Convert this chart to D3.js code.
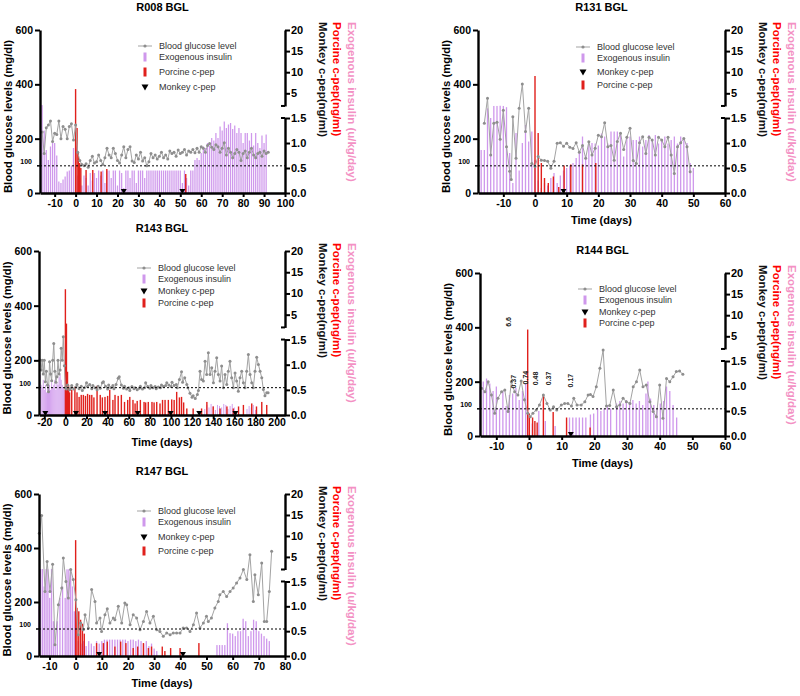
<!DOCTYPE html>
<html><head><meta charset="utf-8">
<script src="https://cdn.jsdelivr.net/npm/d3@7"></script>
<style>body{margin:0;background:#fff}svg{display:block}text{font-family:"Liberation Sans",Arial,sans-serif}</style>
</head><body><svg id="c" width="800" height="696"></svg>
<script>
// ---------------- DATA ----------------
const legendLabels = {bgl:"Blood glucose level", ins:"Exogenous insulin", por:"Porcine c-pep", mon:"Monkey c-pep"};
const leftTicks = [0,200,400,600];
const rightLowTicks = [0,0.5,1.0,1.5];
const rightHighTicks = [5,10,15,20];

// R008
const r008Ticks = [-10,0,10,20,30,40,50,60,70,80,90,100];
const r008Glucose = [[-16,225],[-15,145],[-14,240],[-13,250],[-12,265],[-11,190],[-10,220],[-9,215],[-8,265],[-7,200],[-6,245],[-5,235],[-4,200],[-3,245],[-2,255],[-1,195],[0,250],[1,150],[2,120],[3,105],[4,100],[5,108],[6,95],[7,120],[8,135],[9,110],[10,115],[11,140],[12,120],[13,105],[14,130],[15,165],[16,140],[17,130],[18,165],[19,145],[20,120],[21,110],[22,140],[23,170],[24,130],[25,160],[26,170],[27,118],[28,112],[29,140],[30,125],[31,150],[32,118],[33,130],[34,100],[35,115],[36,145],[37,130],[38,140],[39,125],[40,135],[41,150],[42,130],[43,140],[44,125],[45,155],[46,145],[47,150],[48,135],[49,158],[50,145],[51,150],[52,160],[53,140],[54,155],[55,150],[56,160],[57,148],[58,165],[59,150],[60,170],[61,165],[62,150],[63,175],[64,182],[65,168],[66,160],[67,178],[68,170],[69,150],[70,165],[71,185],[72,140],[73,165],[74,150],[75,130],[76,145],[77,160],[78,150],[79,120],[80,145],[81,155],[82,130],[83,150],[84,165],[85,140],[86,130],[87,145],[88,150],[89,135],[90,155],[91,145],[92,150]];
const r008Insulin = [[-16,2.2],[-15,1.25],[-14,0.86],[-13,0.66],[-12,0.93],[-11,1.0],[-10,1.0],[-9,0.75],[-8,0.23],[-7,0.2],[-6,0.27],[-5,0.33],[-4,0.43],[-3,0.45],[-2,0.55],[-1,0.9],[0,0.93],[1,0.35],[2,0.3],[3,0.15],[4,0.35],[5,0.3],[6,0.15],[7,0.4],[8,0.25],[9,0.4],[10,0.3],[11,0.45],[12,0.35],[13,0.45],[14,0.2],[15,0.45],[16,0.45],[17,0.3],[18,0.45],[19,0.45],[20,0.15],[21,0.45],[22,0.4],[23,0.1],[24,0.45],[25,0.45],[26,0.3],[27,0.45],[28,0.45],[29,0.2],[30,0.45],[31,0.45],[32,0.45],[33,0.3],[34,0.45],[35,0.45],[36,0.45],[37,0.45],[38,0.45],[39,0.45],[40,0.45],[41,0.45],[42,0.45],[43,0.45],[44,0.45],[45,0.45],[46,0.45],[47,0.45],[48,0.45],[49,0.45],[50,0.45],[51,0.2],[52,0.45],[53,0.3],[54,0.15],[55,0.45],[56,0.45],[57,0.66],[58,0.7],[59,0.66],[60,0.8],[61,0.93],[62,0.9],[63,1.0],[64,0.95],[65,1.1],[66,1.05],[67,1.2],[68,1.1],[69,1.33],[70,1.25],[71,1.43],[72,1.3],[73,1.37],[74,1.4],[75,1.28],[76,1.35],[77,1.2],[78,1.3],[79,1.2],[80,1.0],[81,1.2],[82,1.2],[83,1.05],[84,1.2],[85,0.95],[86,1.2],[87,1.0],[88,0.9],[89,1.15],[90,1.0],[91,1.17]];
const r008Porcine = [[0,6.0],[0.7,1.3],[1.3,0.8],[1.9,0.6],[2.5,0.5],[5,0.46],[8.2,0.46],[12.2,0.43],[14.9,0.48],[52.6,0.38]];
const r008Monkey = [23,51];

// R131
const r131Ticks = [-10,0,10,20,30,40,50,60];
const r131Glucose = [[-16,257],[-15,349],[-14,140],[-13,257],[-12,260],[-11,198],[-10,305],[-9,170],[-8,80],[-7.5,50],[-7,281],[-6,128],[-5,312],[-4,401],[-3,226],[-2,312],[-1,109],[0,98],[1,134],[2,121],[3,120],[4,117],[5,91],[6,117],[7,183],[8,185],[9,172],[10,183],[11,168],[12,164],[13,185],[14,150],[15,175],[16,128],[17,189],[18,140],[19,165],[20,213],[21,207],[22,259],[23,170],[24,175],[25,121],[26,190],[27,220],[28,160],[29,205],[30,238],[31,120],[32,109],[33,185],[34,207],[35,145],[36,205],[37,195],[38,140],[39,205],[40,195],[41,170],[42,205],[43,140],[44,72],[45,170],[46,185],[47,201],[48,170],[49,78]];
const r131Insulin = [[-17,0.86],[-16,0.86],[-15,1.9],[-14,1.5],[-13,2.0],[-12,2.0],[-11,2.05],[-10,2.0],[-9,1.95],[-8,0.8],[-7,0.2],[-6,1.2],[-5,0.45],[-4,1.0],[-3,1.36],[-2,1.03],[-1,1.23],[0,0.66],[1,0.25],[2,0.1],[3,0.2],[4,0.15],[5,0.3],[6,0.4],[7,0.2],[8,0.35],[9,0.45],[10,0.5],[11,0.55],[12,0.6],[13,0.7],[14,0.8],[15,1.13],[16,0.75],[17,0.99],[18,1.0],[19,0.99],[20,0.95],[21,1.19],[22,1.13],[23,0.99],[24,1.23],[25,1.23],[26,1.23],[27,1.19],[28,0.73],[29,1.13],[30,1.13],[31,1.06],[32,1.06],[33,1.13],[34,0.93],[35,1.06],[36,1.16],[37,1.06],[38,1.16],[39,0.99],[40,1.06],[41,1.13],[42,0.99],[43,1.06],[44,1.13],[45,0.99],[46,1.13],[47,1.06],[48,1.0],[49,0.6],[50,0.5]];
const r131Porcine = [[0,9.1],[1,1.2],[2,0.6],[3,0.3],[4.2,0.2],[5.8,0.33],[7.5,0.12],[9.2,0.55],[11.3,0.57],[15,0.57],[19.2,0.6]];
const r131Monkey = [9];

// R143
const r143Ticks = [-20,0,20,40,60,80,100,120,140,160,180,200];
const r143Glucose = [[-24,201],[-23,165],[-22,200],[-21,150],[-20,200],[-19,122],[-18,160],[-17,110],[-16,85],[-15,195],[-14,150],[-13,125],[-12,200],[-11,262],[-10,160],[-9,120],[-8,140],[-7,200],[-6,150],[-5,165],[-4,244],[-3,200],[-2,286],[-1,180],[0,100],[1,95],[2,110],[4,92],[5,98],[6,108],[8,95],[10,102],[11,112],[13,96],[15,105],[16,90],[18,100],[20,118],[21,104],[23,112],[25,96],[26,108],[28,100],[30,92],[31,105],[33,98],[35,118],[36,122],[38,105],[40,95],[41,110],[43,100],[45,108],[46,96],[48,112],[50,134],[51,140],[53,110],[55,98],[56,105],[58,95],[60,100],[61,90],[63,104],[65,96],[66,100],[68,92],[70,98],[71,105],[73,95],[75,100],[76,118],[78,104],[80,98],[81,108],[83,100],[85,104],[86,96],[88,102],[90,100],[91,110],[93,104],[95,108],[96,118],[98,110],[100,104],[101,120],[103,108],[105,112],[106,100],[108,130],[110,158],[111,120],[113,136],[115,112],[116,100],[118,80],[120,65],[121,70],[123,60],[125,75],[126,90],[127.5,160],[129,130],[130.7,124],[132.3,197],[133.8,148],[135.4,228],[137,148],[138.6,173],[140.2,118],[141.7,160],[143.3,209],[144.9,148],[146.5,124],[148,179],[149.6,100],[151.2,148],[152.8,112],[154.3,160],[155.9,197],[157.5,136],[159.1,100],[160.7,154],[162.2,124],[163.8,87],[165.4,136],[167,160],[168.6,118],[170.1,100],[171.7,160],[173.3,221],[174.9,148],[176.5,118],[178,100],[179.6,160],[181.2,211],[182.8,185],[184.4,160],[186,136],[187.5,93],[189,70],[190.7,81],[192,81]];
const r143Insulin = [[-24,0.8],[-23,0.6],[-22,0.55],[-21,0.7],[-20,0.5],[-19,0.6],[-18,0.45],[-17,0.65],[-16,0.55],[-15,0.6],[-14,0.5],[-13,0.65],[-12,0.55],[-11,0.6],[-10,0.7],[-9,0.5],[-8,0.65],[-7,0.6],[-6,0.75],[-5,0.8],[-4,0.7],[-3,0.6],[-2,0.55],[-1,0.5],[132,0.12],[134,0.2],[136,0.15],[138,0.22],[140,0.18],[142,0.1],[144,0.2],[146,0.18],[148,0.15],[150,0.22],[152,0.2],[154,0.12],[156,0.18],[158,0.22],[160,0.15],[172,0.12],[174,0.18],[176,0.15],[178,0.2],[180,0.1]];
const r143Porcine = [[0,11],[1,2.9],[2,0.86],[3,0.6],[4,0.45],[6,0.5],[9,0.56],[11,0.45],[13,0.36],[15,0.4],[17,0.4],[19,0.38],[21,0.42],[23,0.4],[25,0.4],[27,0.35],[30,0.58],[33,0.4],[35,0.35],[37.5,0.36],[40,0.38],[42,0.5],[45,0.3],[47,0.4],[50,0.38],[53,0.4],[56,0.26],[59,0.3],[61,0.36],[64,0.3],[66,0.23],[68,0.28],[71,0.3],[74.5,0.26],[76,0.25],[78.5,0.26],[82,0.26],[84,0.25],[86.5,0.26],[89.6,0.23],[92,0.3],[94.4,0.3],[97.5,0.3],[100.7,0.31],[103,0.3],[105.4,0.46],[108,0.35],[110,0.36],[112,0.25],[115,0.13],[121,0.13],[129,0.13],[134,0.26],[140,0.17],[146.5,0.13],[153,0.17],[159,0.13],[164,0.17],[168.6,0.2],[176.5,0.23],[181,0.17],[186,0.26],[190.7,0.2]];
const r143Monkey = [-19,10,37.6,68.5,99.7,126.8,161];

// R144
const r144Ticks = [-10,0,10,20,30,40,50,60];
const r144Glucose = [[-14.5,176],[-13.5,163],[-12.5,200],[-11.5,151],[-10.5,84],[-9.5,139],[-8.4,163],[-7.4,169],[-6.4,90],[-5.4,200],[-4.4,163],[-3.4,151],[-2.4,202],[-1.4,133],[-0.4,84],[0.4,71],[1.2,84],[2.2,96],[3.2,114],[4.4,151],[5.5,120],[6.5,96],[7.5,108],[8.5,96],[9.9,114],[10.9,120],[11.9,120],[13,110],[13.7,139],[14.7,114],[16,114],[17.1,126],[18.1,151],[18.8,153],[19.6,145],[20.6,181],[21.7,249],[22.7,317],[23.7,110],[24.7,112],[25.8,169],[26.8,108],[27.8,114],[28.8,139],[29.8,126],[30.9,120],[31.9,181],[32.9,200],[33.9,243],[34.9,181],[35.9,188],[37,126],[38,90],[39,71],[40,188],[41,65],[42.1,212],[43.1,200],[44.1,218],[45.1,237],[46.1,239],[47.1,227]];
const r144Insulin = [[-15,0.99],[-14,1.09],[-13,1.15],[-12,1.05],[-11,0.9],[-10,0.99],[-9,0.55],[-8,0.9],[-7,0.6],[-6,0.82],[-5,0.85],[-4,0.96],[-3,0.72],[-2,0.9],[-1,1.05],[1,0.25],[3,0.5],[5,0.3],[8,0.2],[12.4,0.37],[13.4,0.37],[14.4,0.37],[15.4,0.37],[16.4,0.37],[17.4,0.37],[18.8,0.43],[19.8,0.45],[21,0.55],[22,0.5],[23,0.55],[24,0.62],[25,0.55],[26.8,0.65],[27.8,0.7],[28.8,0.65],[29.8,0.72],[30.8,0.68],[31.8,0.72],[32.8,0.65],[33.8,0.7],[34.8,0.62],[35.8,0.85],[36.4,1.09],[37.2,0.75],[38.2,0.62],[39.2,0.55],[40.2,0.65],[41.2,0.7],[42.1,0.99],[43.1,0.9],[44.1,0.62],[45.2,0.37]];
const r144Porcine = [[-0.4,6.6],[0.1,0.45],[1.1,0.37],[1.8,0.3],[2.5,0.27],[4.4,0.82],[7.4,0.48],[11.5,0.37],[18.7,0.17]];
const r144Monkey = [12.8];
const r144Notes = [[-6.4,420,"6.6"],[-4.6,200,"0.37"],[-1.0,215,"0.74"],[2.1,212,"0.48"],[6.1,212,"0.37"],[12.8,204,"0.17"]];

// R147
const r147Ticks = [-10,0,10,20,30,40,50,60,70,80];
const r147Glucose = [[-13.9,455],[-13,520],[-11.7,239],[-10.9,350],[-9.8,239],[-8.8,340],[-7.9,42],[-6.6,190],[-5.3,252],[-4.7,363],[-3.7,276],[-2.8,215],[-1.9,320],[-0.9,283],[0.1,208],[1,79],[1.9,122],[2.9,97],[3.6,153],[4.9,104],[6.1,246],[7.4,202],[8,122],[9.3,141],[9.9,91],[11.2,153],[12.1,175],[13.1,122],[14.4,141],[15,134],[16.3,184],[17.6,122],[18.8,196],[19.5,190],[20.8,116],[22,153],[23.3,141],[24.6,97],[25.9,128],[27.1,165],[28.4,122],[29.7,147],[31,97],[32.2,91],[33.5,73],[34.8,85],[36.1,79],[37.3,85],[38.6,85],[39.9,85],[41.1,104],[42.4,104],[43.7,91],[45,116],[46.2,159],[47.5,104],[48.8,122],[50,147],[50.7,128],[51.9,141],[53.2,178],[54.5,202],[55.1,227],[56.4,239],[57.7,220],[59,239],[60.2,252],[61.5,270],[62.8,289],[64.1,320],[65.4,283],[66.6,375],[67.9,202],[68.5,301],[69.8,227],[71.1,344],[72.1,128],[73,128],[74,239],[74.9,388]];
const r147Insulin = [[-14,1.0],[-13.4,2.1],[-12.7,2.1],[-12,1.4],[-11.3,2.1],[-10.6,2.05],[-9.9,1.17],[-9.2,2.1],[-8.5,0.7],[-7.8,0.2],[-7,0.7],[-6,1.17],[-5,1.4],[-4,1.17],[-3.3,2.05],[-2.6,2.05],[-1.9,2.05],[-1.2,1.4],[-0.5,0.9],[1,0.3],[2,0.25],[3,0.3],[4,0.2],[5,0.3],[6,0.25],[7,0.2],[8,0.3],[9,0.25],[10,0.3],[11,0.33],[12,0.33],[13,0.33],[14,0.33],[15,0.33],[16,0.33],[17,0.33],[18,0.33],[19,0.33],[20,0.3],[21,0.33],[22,0.33],[23,0.3],[24,0.33],[25,0.3],[26,0.25],[27,0.3],[28,0.2],[29,0.25],[30,0.15],[31,0.1],[54,0.22],[55,0.22],[56,0.22],[57,0.22],[58,0.66],[59,0.46],[60,0.45],[61,0.4],[62,0.5],[63,0.5],[64,0.75],[65,0.7],[66,0.4],[67,0.5],[68,0.73],[69,0.7],[70,0.5],[71,0.45],[72,0.4],[73,0.35],[74,0.3]];
const r147Porcine = [[0,9.0],[0.5,0.97],[1.2,0.9],[1.9,0.73],[2.6,0.65],[3.3,0.45],[8,0.26],[10.6,0.26],[12.1,0.29],[15,0.19],[17.2,0.29],[19.2,0.26],[22,0.16],[23.7,0.19],[25.9,0.26],[27.8,0.16],[29,0.19],[33.1,0.19],[34.1,0.1],[36.3,0.16],[39.9,0.16],[47.1,0.26]];
const r147Monkey = [9,41];

// ---------------- LAYOUT ----------------
const C = {gl:"#a3a3a3", dot:"#8e8e8e", ins:"#cf98ec", por:"#e0201c", pink:"#f391c4", red:"#ff0000"};
const panels = [
 {name:"R008 BGL", glucose:r008Glucose, insulin:r008Insulin, porcine:r008Porcine, monkey:r008Monkey, ticks:r008Ticks,
  left:40, right:285, top:30, bottom:193, xd:[-17,100], xTitle:false, legend:[16,27,42,57], order:["bgl","ins","por","mon"], pad:3},
 {name:"R131 BGL", glucose:r131Glucose, insulin:r131Insulin, porcine:r131Porcine, monkey:r131Monkey, ticks:r131Ticks,
  left:478, right:725, top:30, bottom:193, xd:[-18,60], xTitle:true, legend:[17,28,42,55], order:["bgl","ins","mon","por"], pad:3},
 {name:"R143 BGL", glucose:r143Glucose, insulin:r143Insulin, porcine:r143Porcine, monkey:r143Monkey, ticks:r143Ticks,
  left:39, right:285, top:251, bottom:415, xd:[-25,208], xTitle:true, legend:[17,28,40,52], order:["bgl","ins","mon","por"], pad:0},
 {name:"R144 BGL", glucose:r144Glucose, insulin:r144Insulin, porcine:r144Porcine, monkey:r144Monkey, ticks:r144Ticks,
  left:480, right:725, top:273, bottom:436, xd:[-15,60], xTitle:true, legend:[16,27,39,50], order:["bgl","ins","mon","por"], pad:3, notes:r144Notes},
 {name:"R147 BGL", glucose:r147Glucose, insulin:r147Insulin, porcine:r147Porcine, monkey:r147Monkey, ticks:r147Ticks,
  left:39, right:285, top:494, bottom:656, xd:[-14,80], xTitle:true, legend:[17,28,43,57], order:["bgl","ins","mon","por"], pad:3}
];

const svg = d3.select("#c");
const tri = (cx, yTip, w, h) => `M${cx-w/2},${yTip-h}L${cx+w/2},${yTip-h}L${cx},${yTip}Z`;

function styleAxis(a, fs){
  a.selectAll(".domain").attr("stroke","#000").attr("stroke-width",2.4);
  a.selectAll(".tick line").attr("stroke","#000").attr("stroke-width",2);
  a.selectAll(".tick text").attr("fill","#000").style("font-family","'Liberation Sans',Arial,sans-serif")
   .style("font-size",fs+"px").style("font-weight","bold");
}

panels.forEach(p=>{
  const g = svg.append("g");
  const h = p.bottom - p.top;
  const x = d3.scaleLinear().domain(p.xd).range([p.left,p.right]);
  const yL = d3.scaleLinear().domain([0,600]).range([p.bottom,p.top]);
  const yLow = p.top + 0.54*h, yHigh = p.top + 0.466*h;
  const yR = d3.scaleLinear().domain([0,1.5,2,20]).range([p.bottom,yLow,yHigh,p.top]);
  const yRlow = d3.scaleLinear().domain([0,1.5]).range([p.bottom,yLow]);
  const yRhigh = d3.scaleLinear().domain([2,20]).range([yHigh,p.top]);
  const ppd = (p.right-p.left)/(p.xd[1]-p.xd[0]);
  const bw = Math.max(0.9, Math.min(1.3, ppd*0.6));

  // insulin bars
  g.append("g").selectAll("rect").data(p.insulin).join("rect")
   .attr("x",d=>x(d[0])-bw/2).attr("width",bw)
   .attr("y",d=>yR(d[1])).attr("height",d=>p.bottom-yR(d[1])).attr("fill",C.ins);
  // porcine bars
  g.append("g").selectAll("rect").data(p.porcine).join("rect")
   .attr("x",d=>x(d[0])-0.7).attr("width",1.4)
   .attr("y",d=>yR(d[1])).attr("height",d=>p.bottom-yR(d[1])).attr("fill",C.por);
  // glucose
  g.append("path").datum(p.glucose)
   .attr("d",d3.line().x(d=>x(d[0])).y(d=>yL(d[1])))
   .attr("fill","none").attr("stroke",C.gl).attr("stroke-width",1);
  g.append("g").selectAll("circle").data(p.glucose).join("circle")
   .attr("cx",d=>x(d[0])).attr("cy",d=>yL(d[1])).attr("r",1.5).attr("fill",C.dot);
  // dashed 100 line
  g.append("line").attr("x1",p.left).attr("x2",p.right).attr("y1",yL(100)).attr("y2",yL(100))
   .attr("stroke","#000").attr("stroke-width",1).attr("stroke-dasharray","2,2");
  // annotations
  if(p.notes){
    p.notes.forEach(n=>{
      g.append("text").attr("transform",`translate(${x(n[0])},${yL(n[1])}) rotate(-90)`)
       .attr("text-anchor","middle").attr("dominant-baseline","central")
       .style("font-size","7px").style("font-weight","bold").attr("fill","#222").text(n[2]);
    });
  }

  // axes
  const ax = g.append("g").attr("transform",`translate(${p.left},0)`)
    .call(d3.axisLeft(yL).tickValues(leftTicks).tickSize(5).tickSizeOuter(0).tickPadding(2));
  styleAxis(ax, 10.5);
  g.append("line").attr("x1",p.left-3).attr("x2",p.left).attr("y1",yL(100)).attr("y2",yL(100)).attr("stroke","#000").attr("stroke-width",1.5);
  g.append("text").attr("x",p.left-8).attr("y",yL(100)-2).attr("text-anchor","end")
   .style("font-size","7px").style("font-weight","bold").text("100");

  const bx = g.append("g").attr("transform",`translate(0,${p.bottom})`)
    .call(d3.axisBottom(x).tickValues(p.ticks).tickFormat(d=>String(d)).tickSize(4).tickSizeOuter(0).tickPadding(p.pad));
  styleAxis(bx, 10.5);

  const rl = g.append("g").attr("transform",`translate(${p.right},0)`)
    .call(d3.axisRight(yRlow).tickValues(rightLowTicks).tickFormat(d3.format(".1f")).tickSize(5).tickSizeOuter(0).tickPadding(1));
  styleAxis(rl, 11);
  const rh = g.append("g").attr("transform",`translate(${p.right},0)`)
    .call(d3.axisRight(yRhigh).tickValues(rightHighTicks).tickSize(5).tickSizeOuter(0).tickPadding(1));
  styleAxis(rh, 11);
  [yHigh, yLow].forEach(yy=>g.append("line").attr("x1",p.right-4).attr("x2",p.right).attr("y1",yy).attr("y2",yy).attr("stroke","#000").attr("stroke-width",2));

  // monkey triangles
  g.append("g").selectAll("path").data(p.monkey).join("path")
   .attr("d",d=>tri(x(d), yR(0)+1, 6, 5)).attr("fill","#000");

  // titles
  g.append("text").attr("x",(p.left+p.right)/2).attr("y",p.top-19).attr("text-anchor","middle")
   .style("font-size","11px").style("font-weight","bold").text(p.name);
  g.append("text").attr("transform",`translate(${p.left-32},${(p.top+p.bottom)/2+5}) rotate(-90)`)
   .attr("text-anchor","middle").attr("dominant-baseline","central")
   .style("font-size","11.3px").style("font-weight","bold").text("Blood glucose levels (mg/dl)");
  [["Monkey c-pep(ng/ml)","#111",38],["Porcine c-pep(ng/ml)",C.red,52],["Exogenous insulin (u/kg/day)",C.pink,67]].forEach(t=>{
    g.append("text").attr("transform",`translate(${p.right+t[2]},${p.top-8}) rotate(90)`)
     .attr("text-anchor","start").attr("dominant-baseline","central")
     .style("font-size","11.5px").style("font-weight","bold").attr("fill",t[1]).text(t[0]);
  });
  if(p.xTitle){
    g.append("text").attr("x",(p.left+p.right)/2).attr("y",p.bottom+31).attr("text-anchor","middle")
     .style("font-size","11px").style("font-weight","bold").text("Time (days)");
  }

  // legend
  const sx = p.left+105, tx = p.left+119;
  p.order.forEach((k,i)=>{
    const yy = p.top + p.legend[i];
    if(k==="bgl"){
      g.append("line").attr("x1",sx-7).attr("x2",sx+7).attr("y1",yy).attr("y2",yy).attr("stroke",C.gl).attr("stroke-width",1);
      g.append("circle").attr("cx",sx).attr("cy",yy).attr("r",1.6).attr("fill",C.dot);
    } else if(k==="ins"){
      g.append("rect").attr("x",sx-1.5).attr("y",yy-4.5).attr("width",3).attr("height",9).attr("fill",C.ins);
    } else if(k==="por"){
      g.append("rect").attr("x",sx-1.5).attr("y",yy-4.5).attr("width",3).attr("height",9).attr("fill",C.por);
    } else {
      g.append("path").attr("d",tri(sx, yy+3.5, 7, 6)).attr("fill","#000");
    }
    g.append("text").attr("x",tx).attr("y",yy).attr("dominant-baseline","central")
     .style("font-size","9px").attr("fill","#333").text(legendLabels[k]);
  });
});
</script>
</body></html>
